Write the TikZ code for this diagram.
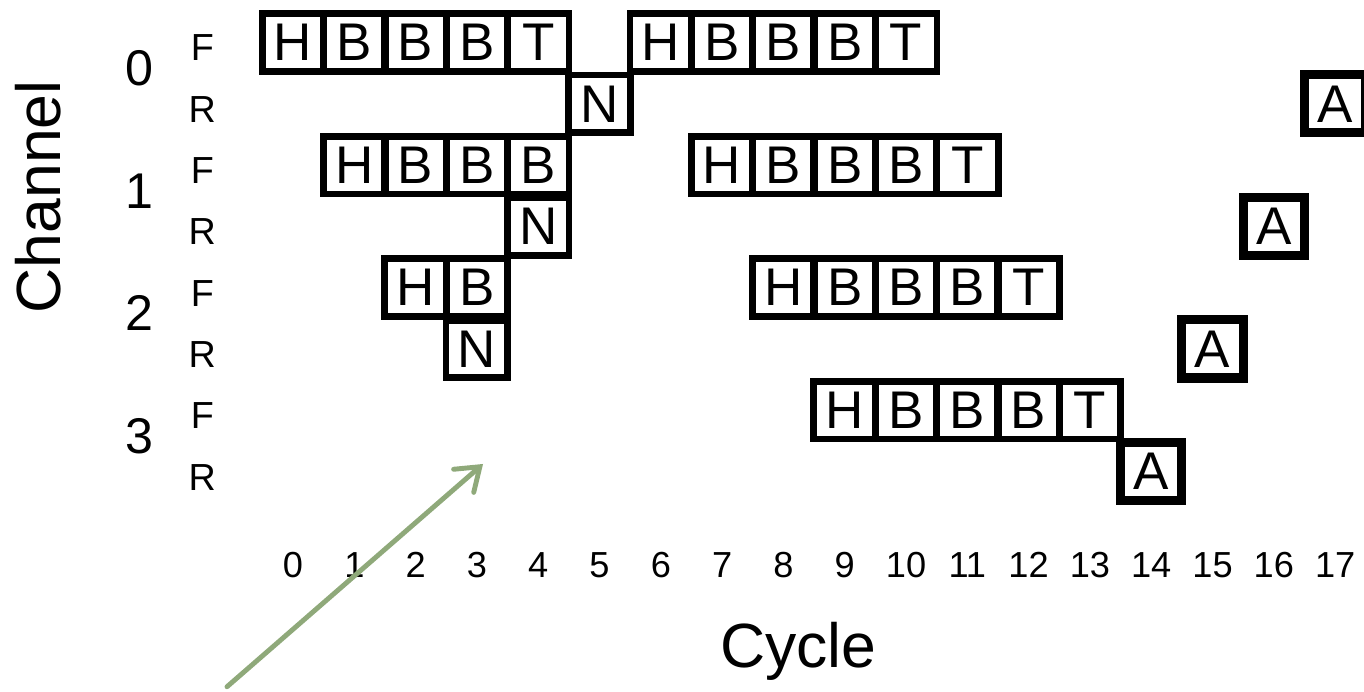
\documentclass[tikz,border=0pt]{standalone}
\usepackage{fontspec}
\setmainfont{Liberation Sans}
\usetikzlibrary{arrows.meta}

\definecolor{ptrgreen}{RGB}{143,169,122}

\begin{document}
\begin{tikzpicture}[
    cell/.style={draw, line width=0.11cm, minimum width=1.007cm, minimum height=0.94cm,
                 inner sep=0pt, font=\fontsize{24.6}{26}\selectfont},
    ack/.style={cell, line width=0.15cm, minimum width=1cm, minimum height=0.95cm},
    chan/.style={font=\fontsize{23.3}{25}\selectfont},
    lane/.style={font=\fontsize{17.5}{19}\selectfont},
    tick/.style={font=\fontsize{16.8}{18}\selectfont},
    axis/.style={font=\fontsize{29}{31}\selectfont},
    pointer/.style={draw=ptrgreen, line width=0.08cm, line cap=round,
                    -{Straight Barb[length=0.35cm, width=0.5cm, line cap=round]}}
  ]
  \useasboundingbox (-4.780,-10.595) rectangle (17.471,0.693);

  % channel 0
  \foreach \t [count=\i from 0] in {H,B,B,B,T}
    \node[cell] (c0a\i) at (\i,0) {\t};
  \foreach \t [count=\i from 6] in {H,B,B,B,T}
    \node[cell] (c0b\i) at (\i,0) {\t};
  \node[cell] (c0n) at (5,-1) {N};
  \node[ack] (c0ack) at (17,-1) {A};

  % channel 1
  \foreach \t [count=\i from 1] in {H,B,B,B}
    \node[cell] (c1a\i) at (\i,-2) {\t};
  \foreach \t [count=\i from 7] in {H,B,B,B,T}
    \node[cell] (c1b\i) at (\i,-2) {\t};
  \node[cell] (c1n) at (4,-3) {N};
  \node[ack] (c1ack) at (16,-3) {A};

  % channel 2
  \foreach \t [count=\i from 2] in {H,B}
    \node[cell] (c2a\i) at (\i,-4) {\t};
  \foreach \t [count=\i from 8] in {H,B,B,B,T}
    \node[cell] (c2b\i) at (\i,-4) {\t};
  \node[cell] (c2n) at (3,-5) {N};
  \node[ack] (c2ack) at (15,-5) {A};

  % channel 3
  \foreach \t [count=\i from 9] in {H,B,B,B,T}
    \node[cell] (c3b\i) at (\i,-6) {\t};
  \node[ack] (c3ack) at (14,-7) {A};

  % labels
  \foreach \ch in {0,...,3} {
    \node[chan] (ch\ch) at (-2.5,-2*\ch-0.42) {\ch};
    \node[lane] (fw\ch) at (-1.48,-2*\ch-0.09) {F};
    \node[lane] (rv\ch) at (-1.48,-2*\ch-1.09) {R};
  }
  \foreach \c in {0,...,17}
    \node[tick] (cy\c) at (\c,-8.52) {\c};

  \node[axis, rotate=90, anchor=base] (chtitle) at (-3.80,-2.52) {Channel};
  \node[axis, anchor=base] (cytitle) at (8.24,-10.2) {Cycle};

  \coordinate (tail) at (-1.077,-10.51);
  \coordinate (tip) at (3.10,-6.876);
  \draw[pointer] (tail) -- (tip);
\end{tikzpicture}
\end{document}
